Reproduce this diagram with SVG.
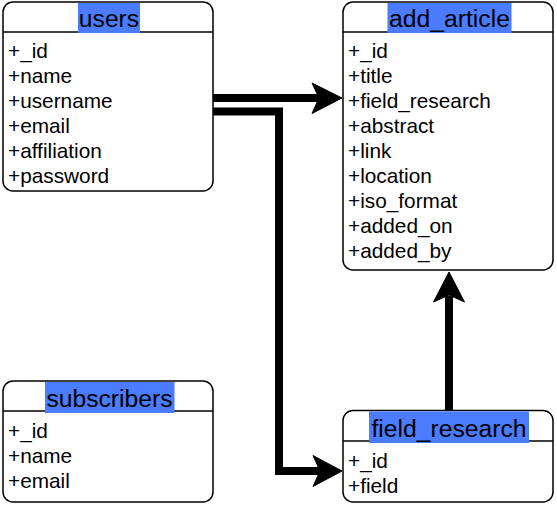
<svg xmlns="http://www.w3.org/2000/svg" width="557" height="505" viewBox="0 0 557 505">
<style>
.box{fill:#fff;stroke:#000;stroke-width:1.5}
.div{stroke:#000;stroke-width:1.5}
.hl{fill:#4B7BFF}
.title{font-family:"Liberation Sans",Arial,Helvetica,sans-serif;font-size:24.7px;fill:#000;text-anchor:middle}
.f{font-family:"Liberation Sans",Arial,Helvetica,sans-serif;font-size:20.8px;fill:#000}
.line{fill:none;stroke:#000;stroke-width:8;stroke-linejoin:miter}
.ah{fill:#000;stroke:#000;stroke-width:1}
</style>
<rect width="557" height="505" fill="#fff"/>
<g id="connectors">
<path class="line" d="M213,98 H320"/>
<polygon class="ah" points="342,98 312,83 319,98 312,113.5"/>
<path class="line" d="M213,111.5 H279 V471 H320"/>
<polygon class="ah" points="342,471 313,455.5 320,471 313,486.5"/>
<path class="line" d="M449,411 V296"/>
<polygon class="ah" points="449,272 433.5,302 449,295 464.5,302"/>
</g>
<g id="users">
<rect class="box" x="3" y="2" width="210" height="189" rx="10"/>
<line class="div" x1="3" y1="32" x2="213" y2="32"/>
<rect class="hl" x="78" y="3" width="62" height="30"/>
<text class="title" x="109" y="27">users</text>
<text class="f" x="8" y="57.5">+_id</text>
<text class="f" x="8" y="82.5">+name</text>
<text class="f" x="8" y="107.5">+username</text>
<text class="f" x="8" y="132.5">+email</text>
<text class="f" x="8" y="157.5">+affiliation</text>
<text class="f" x="8" y="182.5">+password</text>
</g>
<g id="add_article">
<rect class="box" x="343" y="2" width="210" height="268" rx="10"/>
<line class="div" x1="343" y1="32" x2="553" y2="32"/>
<rect class="hl" x="387.5" y="3" width="124" height="30"/>
<text class="title" x="449.5" y="27">add_article</text>
<text class="f" x="348" y="57.5">+_id</text>
<text class="f" x="348" y="82.5">+title</text>
<text class="f" x="348" y="107.5">+field_research</text>
<text class="f" x="348" y="132.5">+abstract</text>
<text class="f" x="348" y="157.5">+link</text>
<text class="f" x="348" y="182.5">+location</text>
<text class="f" x="348" y="207.5">+iso_format</text>
<text class="f" x="348" y="232.5">+added_on</text>
<text class="f" x="348" y="257.5">+added_by</text>
</g>
<g id="subscribers">
<rect class="box" x="3" y="381" width="210" height="121" rx="10"/>
<line class="div" x1="3" y1="411" x2="213" y2="411"/>
<rect class="hl" x="45" y="382" width="129.5" height="31"/>
<text class="title" x="109.5" y="407">subscribers</text>
<text class="f" x="8" y="438">+_id</text>
<text class="f" x="8" y="463">+name</text>
<text class="f" x="8" y="488">+email</text>
</g>
<g id="field_research">
<rect class="box" x="343" y="410.5" width="210" height="91.5" rx="10"/>
<line class="div" x1="343" y1="441" x2="553" y2="441"/>
<rect class="hl" x="369" y="411.5" width="160" height="31.5"/>
<text class="title" x="449" y="437">field_research</text>
<text class="f" x="348" y="468">+_id</text>
<text class="f" x="348" y="493">+field</text>
</g>
</svg>
